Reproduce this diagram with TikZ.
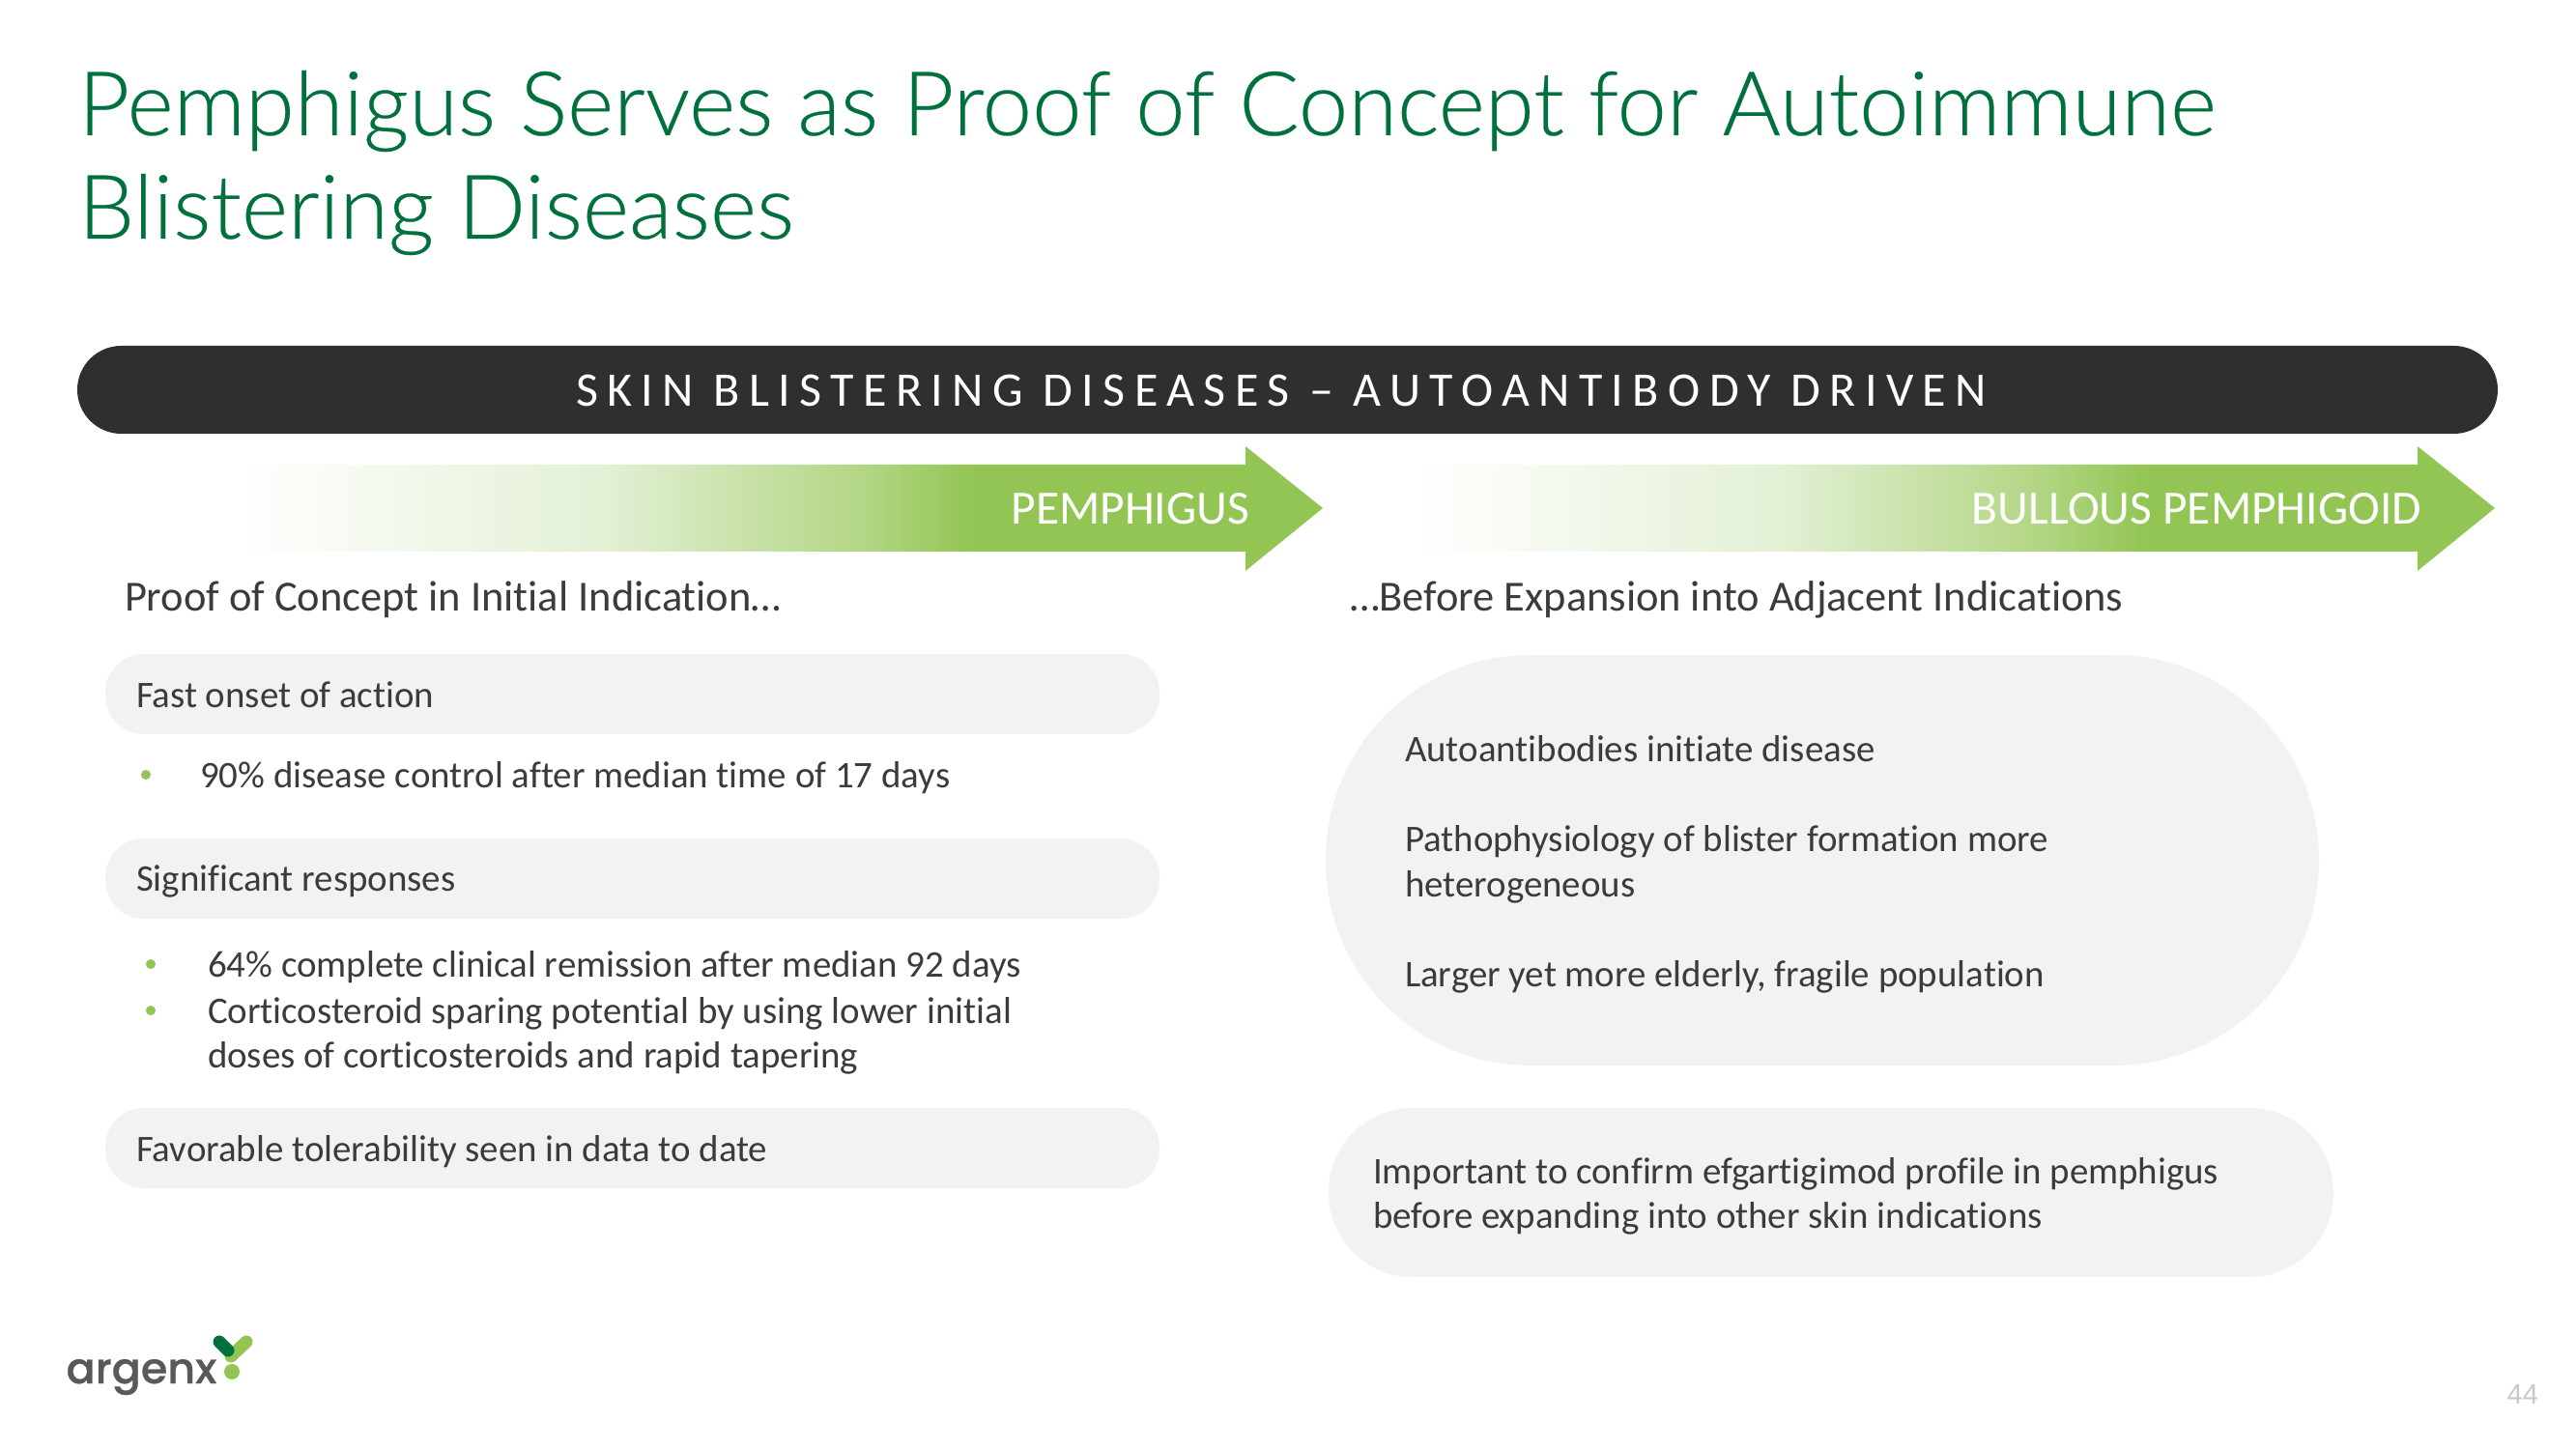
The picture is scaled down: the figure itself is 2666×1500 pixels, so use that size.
\documentclass[tikz,border=0pt]{standalone}
\usepackage{fontspec}
\setmainfont[Ligatures=NoCommon]{Carlito}
\newfontfamily\titlefont[Ligatures=NoCommon,FakeBold=0.25]{Lato Light}
\newfontfamily\logofont{Poppins Medium}
\newfontfamily\numfont{Liberation Sans}
\definecolor{titlegreen}{HTML}{00703C}
\definecolor{barblack}{HTML}{2F2F2F}
\definecolor{argreen}{HTML}{92C553}
\definecolor{pillgrey}{HTML}{F2F2F2}
\definecolor{bodytext}{HTML}{3B3B3B}
\definecolor{logogrey}{HTML}{58595B}
\definecolor{darkmark}{HTML}{00703C}
\definecolor{numgrey}{HTML}{C8C8C8}
\definecolor{gradone}{HTML}{E3F0D5}
\definecolor{gradtwo}{HTML}{B3D685}
\pgfdeclarehorizontalshading{arrowgrad}{100bp}{color(0bp)=(white); color(27bp)=(white); color(43.2bp)=(gradone); color(54.6bp)=(gradtwo); color(59.6bp)=(argreen); color(100bp)=(argreen)}
\newcommand{\fs}[1]{\fontsize{#1pt}{#1pt}\selectfont}
\tikzset{
  txt/.style={anchor=base west,inner sep=0pt,outer sep=0pt,text=bodytext,font=\fs{14}},
  head/.style={txt,font=\fs{16}},
  titletext/.style={anchor=base west,inner sep=0pt,outer sep=0pt,text=titlegreen,font=\titlefont\fs{33.2}},
  arrowlabel/.style={anchor=base east,inner sep=0pt,outer sep=0pt,text=white,font=\fs{17.8}},
  pill/.style={fill=pillgrey,draw=none},
  bul/.style={circle,fill=argreen,inner sep=0pt,minimum size=10*0.36pt},
}
\begin{document}
\begin{tikzpicture}[x=0.36pt,y=-0.36pt]
\useasboundingbox (0,0) rectangle (2666,1500);
\fill[white] (0,0) rectangle (2666,1500);
% title
\node[titletext] (t1) at (81,140) {Pemphigus Serves as Proof of Concept for Autoimmune};
\node[titletext] (t2) at (81,247) {Blistering Diseases};
% bar
\fill[barblack,rounded corners=45.5*0.36pt] (80,358) rectangle (2585,449);
\node[anchor=base,inner sep=0pt,text=white] (bar) at (1326,421)
  {\fs{18}\addfontfeature{LetterSpace=18.8}SKIN BLISTERING DISEASES – AUTOANTIBODY DRIVEN};
% arrow 1
\shade[shading=arrowgrad,draw=none] (200,481) -- (1289,481) -- (1289,462) -- (1369,526) -- (1289,591) -- (1289,571) -- (200,571) -- cycle;
\node[arrowlabel] (a1) at (1293,543) {PEMPHIGUS};
% arrow 2
\shade[shading=arrowgrad,draw=none] (1418,481) -- (2502,481) -- (2502,462) -- (2582,526) -- (2502,591) -- (2502,571) -- (1418,571) -- cycle;
\node[arrowlabel] (a2) at (2506,543) {BULLOUS PEMPHIGOID};
% headings
\node[head] (h1) at (129,633) {Proof of Concept in Initial Indication…};
\node[head] (h2) at (1397,633) {…Before Expansion into Adjacent Indications};
% left pills
\fill[pill,rounded corners=40*0.36pt] (109,677) rectangle (1200,760);
\fill[pill,rounded corners=40*0.36pt] (109,868) rectangle (1200,951);
\fill[pill,rounded corners=40*0.36pt] (109,1147) rectangle (1200,1230);
\node[txt] (l1) at (141,733) {Fast onset of action};
\node[bul] (b1) at (151,802) {};
\node[txt] (l2) at (207,816) {90\% disease control after median time of 17 days};
\node[txt] (l3) at (141,923) {Significant responses};
\node[bul] (b2) at (156,998) {};
\node[txt] (l4) at (215,1012) {64\% complete clinical remission after median 92 days};
\node[bul] (b3) at (156,1046) {};
\node[txt] (l5) at (215,1059) {Corticosteroid sparing potential by using lower initial};
\node[txt] (l6) at (215,1105) {doses of corticosteroids and rapid tapering};
\node[txt] (l7) at (141,1202) {Favorable tolerability seen in data to date};
% right pills
\fill[pill,rounded corners=212*0.36pt] (1372,678) rectangle (2400,1103);
\fill[pill,rounded corners=87*0.36pt] (1375,1147) rectangle (2415,1322);
\node[txt] (r1) at (1454,789) {Autoantibodies initiate disease};
\node[txt] (r2) at (1454,882) {Pathophysiology of blister formation more};
\node[txt] (r3) at (1454,929) {heterogeneous};
\node[txt] (r4) at (1454,1021) {Larger yet more elderly, fragile population};
\node[txt] (r5) at (1421,1225) {Important to confirm efgartigimod profile in pemphigus};
\node[txt] (r6) at (1421,1271) {before expanding into other skin indications};
% logo
\node[anchor=base west,inner sep=0pt,text=logogrey] (logo) at (68,1432) {\logofont\fs{16}\addfontfeature{FakeBold=0.6}argenx};
\draw[argreen,line width=13*0.36pt,line cap=round] (255,1389) -- (239,1404);
\draw[darkmark,line width=13*0.36pt,line cap=round] (227,1389) -- (236,1398);
\fill[argreen] (240,1420) circle (8);
% page number
\node[anchor=base west,inner sep=0pt,text=numgrey] (pn) at (2594,1453) {\numfont\fs{10.5}44};
\end{tikzpicture}
\end{document}
